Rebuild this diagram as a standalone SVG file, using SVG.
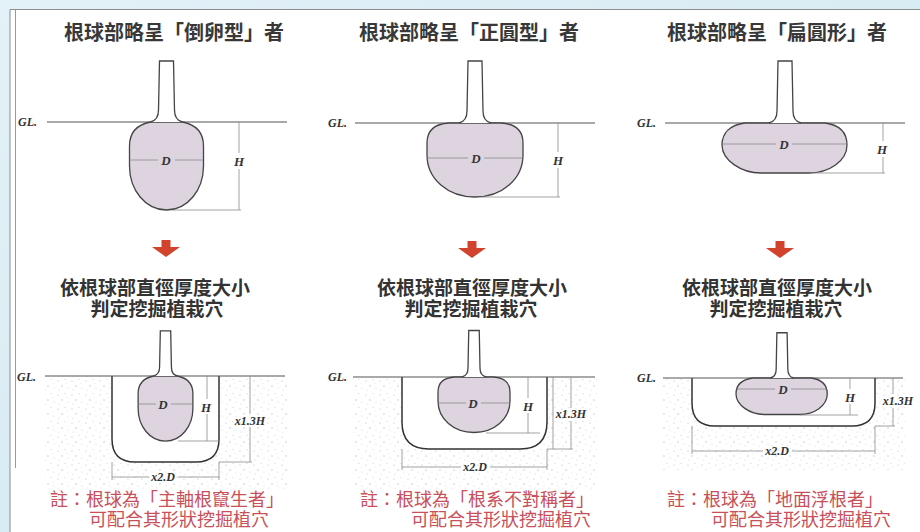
<svg xmlns="http://www.w3.org/2000/svg" xmlns:xlink="http://www.w3.org/1999/xlink" width="920" height="532" viewBox="0 0 920 532">
  <style>
    .cjk { font-family: "Noto Sans CJK TC", "Noto Sans CJK SC", sans-serif; }
    .title { font-size: 20px; font-weight: 700; fill: #383838; text-anchor: middle; }
    .sub { font-size: 19px; font-weight: 700; fill: #333; text-anchor: middle; }
    .note { font-size: 18px; fill: #c8505a; }
    .dim { font-family: "Liberation Serif", "DejaVu Serif", serif; font-style: italic; font-weight: 700; font-size: 13px; fill: #333; text-anchor: middle; }
    .dim.sm { font-size: 12px; }
    .gl { font-family: "Liberation Serif", "DejaVu Serif", serif; font-style: italic; font-weight: 700; font-size: 12px; fill: #333; }
    .ground { stroke: #555; stroke-width: 1.1; fill: none; }
    .dline { stroke: #8a8a8a; stroke-width: 0.8; fill: none; }
    .pit { stroke: #333; stroke-width: 1.5; fill: #fff; }
    .bulb { fill: #ddd4e0; stroke: #444; stroke-width: 1.3; vector-effect: non-scaling-stroke; }
    .stem { fill: #fff; stroke: #444; stroke-width: 1.3; vector-effect: non-scaling-stroke; }
    .arrow { fill: #d2432e; }
  </style>
  <defs>
    <linearGradient id="bg" x1="0" y1="0" x2="1" y2="1">
      <stop offset="0" stop-color="#e3f1f8"/>
      <stop offset="1" stop-color="#cfe6ee"/>
    </linearGradient>
    <pattern id="soil" width="14" height="14" patternUnits="userSpaceOnUse">
      <circle cx="2" cy="3" r="0.6" fill="#b5b5b5"/>
      <circle cx="9" cy="1.5" r="0.5" fill="#c4c4c4"/>
      <circle cx="6" cy="8" r="0.7" fill="#bdbdbd"/>
      <circle cx="12" cy="10" r="0.5" fill="#c8c8c8"/>
      <circle cx="3" cy="12" r="0.5" fill="#c6c6c6"/>
      <circle cx="11" cy="5.5" r="0.4" fill="#cfcfcf"/>
    </pattern>
    <!-- root ball shapes, origin at the stem centre on ground level -->
    <g id="ball-obovate">
      <path class="bulb" d="M-16,0 C-31,3 -37,11 -37,24 L-37,44 C-37,68 -21,88 0,88 C21,88 37,68 37,44 L37,24 C37,11 31,3 16,0 Z"/>
      <path class="stem" d="M-16,0 Q-8,-2 -8,-12 L-7,-61 L7,-61 L8,-12 Q8,-2 16,0"/>
    </g>
    <g id="ball-round">
      <path class="bulb" d="M-26,0 C-42,1 -48,8 -48,20 L-48,32 C-48,56 -27,74 0,74 C27,74 48,56 48,32 L48,20 C48,8 42,1 26,0 Z"/>
      <path class="stem" d="M-16,0 Q-8,-2 -8,-12 L-7,-62 L7,-62 L8,-12 Q8,-2 16,0"/>
    </g>
    <g id="ball-flat">
      <path class="bulb" d="M-40,0 C-55,2 -63,10 -63,22 C-63,37 -44,50 -24,50 L24,50 C44,50 62,38 62,22 C62,10 55,2 40,0 Z"/>
      <path class="stem" d="M-16,0 Q-8,-2 -8,-12 L-7,-62 L7,-62 L8,-12 Q8,-2 16,0"/>
    </g>
    <path id="down-arrow" class="arrow" d="M-4.5,0 L4.5,0 L4.5,7 L14,7 L0,17 L-14,7 L-4.5,7 Z"/>
  </defs>

  <!-- page background and frame -->
  <rect width="920" height="532" fill="url(#bg)"/>
  <rect x="10" y="9.5" width="910" height="523" fill="#fff"/>
  <path d="M10,9.5 H920 M10,9.5 V532" stroke="#8d8d8d" stroke-width="1" fill="none"/>
  <path d="M15.5,10 V468" stroke="#9a9a9a" stroke-width="1" fill="none"/>

  <!-- soil texture beside the planting pits -->
  <rect x="45" y="376" width="242" height="114" fill="url(#soil)"/>
  <rect x="353" y="377" width="244" height="112" fill="url(#soil)"/>
  <rect x="663" y="378" width="242" height="92" fill="url(#soil)"/>

  <!-- column 1: obovate root ball -->
  <g id="col-obovate">
    <text class="cjk title" x="174" y="40">根球部略呈「倒卵型」者</text>
    <g id="obovate-ball">
      <text class="gl" x="18" y="126">GL.</text>
      <path class="ground" d="M47,122 H287"/>
      <use xlink:href="#ball-obovate" transform="translate(166.5,122)"/>
      <path class="dline" d="M129.5,160 H158 M175,160 H202.5"/>
      <text class="dim" x="166" y="165">D</text>
      <path class="dline" d="M239,122 V153 M239,169 V210 M172,210 H241"/>
      <text class="dim" x="239" y="166">H</text>
    </g>
    <use xlink:href="#down-arrow" transform="translate(166,240)"/>
    <text class="cjk sub" x="155" y="295">依根球部直徑厚度大小</text>
    <text class="cjk sub" x="157" y="316">判定挖掘植栽穴</text>
    <g id="obovate-pit">
      <text class="gl" x="17" y="381">GL.</text>
      <path class="pit" d="M112,376 V439 Q112,462 135,462 H196 Q219,462 219,439 V376"/>
      <path class="ground" d="M45,376 H285"/>
      <use xlink:href="#ball-obovate" transform="translate(165.5,376) scale(0.74)"/>
      <path class="dline" d="M138.5,404 H156 M171,404 H192.5"/>
      <text class="dim" x="163" y="409">D</text>
      <path class="dline" d="M207,376 V399 M207,414 V441 M178,441 H219"/>
      <text class="dim" x="206" y="412">H</text>
      <path class="dline" d="M250,376 V414 M250,427 V462 M219,462 H252"/>
      <text class="dim sm" x="250" y="425">x1.3H</text>
      <path class="dline" d="M112,462 V480 M219,462 V480 M112,477 H149 M178,477 H219"/>
      <text class="dim sm" x="163" y="481">x2.D</text>
    </g>
    <text class="cjk note" x="50" y="506">註：根球為「主軸根竄生者」</text>
    <text class="cjk note" x="89" y="526">可配合其形狀挖掘植穴</text>
  </g>

  <!-- column 2: round root ball -->
  <g id="col-round">
    <text class="cjk title" x="469" y="40">根球部略呈「正圓型」者</text>
    <g id="round-ball">
      <text class="gl" x="328" y="127">GL.</text>
      <path class="ground" d="M355,123 H595"/>
      <use xlink:href="#ball-round" transform="translate(475,123)"/>
      <path class="dline" d="M427.5,158 H468 M484,158 H522.5"/>
      <text class="dim" x="476" y="163">D</text>
      <path class="dline" d="M558,123 V152 M558,168 V197 M482,197 H560"/>
      <text class="dim" x="558" y="165">H</text>
    </g>
    <use xlink:href="#down-arrow" transform="translate(472,241)"/>
    <text class="cjk sub" x="472" y="295">依根球部直徑厚度大小</text>
    <text class="cjk sub" x="471" y="316">判定挖掘植栽穴</text>
    <g id="round-pit">
      <text class="gl" x="328" y="381">GL.</text>
      <path class="pit" d="M402,377 V422 Q402,449 429,449 H520 Q547,449 547,422 V377"/>
      <path class="ground" d="M353,377 H595"/>
      <use xlink:href="#ball-round" transform="translate(474,377) scale(0.75)"/>
      <path class="dline" d="M438.5,403 H466 M481,403 H509.5"/>
      <text class="dim" x="473" y="408">D</text>
      <path class="dline" d="M528,377 V398 M528,413 V433 M486,433 H540"/>
      <text class="dim" x="528" y="411">H</text>
      <path class="dline" d="M553,377 V449 M571,377 V408 M571,421 V449 M547,449 H573"/>
      <text class="dim sm" x="571" y="418">x1.3H</text>
      <path class="dline" d="M402,449 V470 M547,449 V470 M402,467 H461 M490,467 H547"/>
      <text class="dim sm" x="475" y="471">x2.D</text>
    </g>
    <text class="cjk note" x="360" y="506">註：根球為「根系不對稱者」</text>
    <text class="cjk note" x="411" y="526">可配合其形狀挖掘植穴</text>
  </g>

  <!-- column 3: flat root ball -->
  <g id="col-flat">
    <text class="cjk title" x="777" y="40">根球部略呈「扁圓形」者</text>
    <g id="flat-ball">
      <text class="gl" x="637" y="127">GL.</text>
      <path class="ground" d="M665,123 H905"/>
      <use xlink:href="#ball-flat" transform="translate(785,123)"/>
      <path class="dline" d="M722.5,144 H776 M792,144 H846.5"/>
      <text class="dim" x="784" y="149">D</text>
      <path class="dline" d="M883,123 V141 M883,157 V173 M810,173 H885"/>
      <text class="dim" x="882" y="154">H</text>
    </g>
    <use xlink:href="#down-arrow" transform="translate(780,241)"/>
    <text class="cjk sub" x="777" y="295">依根球部直徑厚度大小</text>
    <text class="cjk sub" x="776" y="316">判定挖掘植栽穴</text>
    <g id="flat-pit">
      <text class="gl" x="637" y="382">GL.</text>
      <path class="pit" d="M692,378 V403 Q692,426 715,426 H852 Q875,426 875,403 V378"/>
      <path class="ground" d="M663,378 H903"/>
      <use xlink:href="#ball-flat" transform="translate(782,378) scale(0.73)"/>
      <path class="dline" d="M736.5,389 H775 M791,389 H826.5"/>
      <text class="dim" x="783" y="394">D</text>
      <path class="dline" d="M850,378 V389 M850,404 V415 M800,415 H858"/>
      <text class="dim" x="850" y="402">H</text>
      <path class="dline" d="M893,378 V394 M893,408 V426 M875,426 H895"/>
      <text class="dim sm" x="898" y="405">x1.3H</text>
      <path class="dline" d="M692,426 V454 M875,426 V454 M692,451 H763 M792,451 H875"/>
      <text class="dim sm" x="777" y="455">x2.D</text>
    </g>
    <text class="cjk note" x="667" y="506">註：根球為「地面浮根者」</text>
    <text class="cjk note" x="711" y="526">可配合其形狀挖掘植穴</text>
  </g>
</svg>
